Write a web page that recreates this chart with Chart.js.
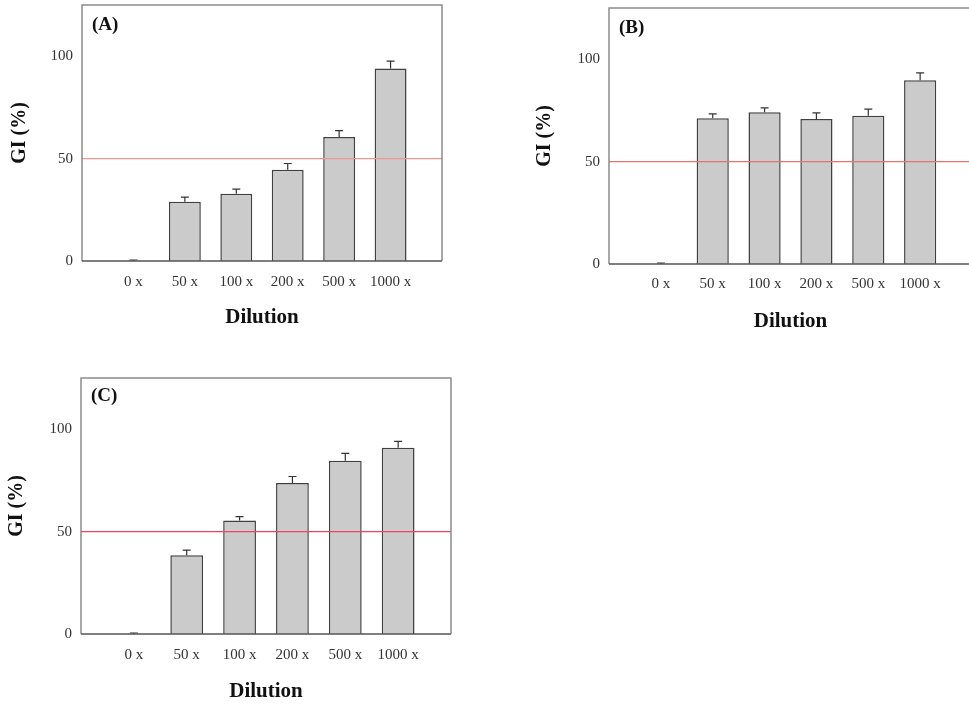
<!DOCTYPE html>
<html>
<head>
<meta charset="utf-8">
<script src="https://cdn.jsdelivr.net/npm/chart.js@4.4.0/dist/chart.umd.min.js"></script>
<style>
html, body { margin: 0; padding: 0; background: #fff; overflow: hidden; }
body { width: 969px; height: 705px; position: relative; }
canvas { position: absolute; }
</style>
</head>
<body>
<canvas id="chartA" width="460" height="340" style="left:0px;top:0px"></canvas>
<canvas id="chartB" width="470" height="345" style="left:520px;top:0px"></canvas>
<canvas id="chartC" width="460" height="335" style="left:0px;top:370px"></canvas>
<script>
var dilutions = ["0 x", "50 x", "100 x", "200 x", "500 x", "1000 x"];
var giA = [0, 28.9, 32.8, 44.5, 60.5, 94.0];
var errA = [0.5, 2.3, 2.3, 3.1, 3.2, 3.6];
var giB = [0, 71.2, 74.1, 70.8, 72.4, 89.7];
var errB = [0.5, 2.1, 2.1, 3.0, 3.2, 3.6];
var giC = [0, 38.4, 55.4, 73.7, 84.6, 90.9];
var errC = [0.5, 2.6, 1.9, 3.2, 3.6, 3.2];
var yTicks = [0, 50, 100];
var threshold = 50;

var serif = "'Liberation Serif', 'Times New Roman', serif";

// frame, error bars and panel tag
var extrasPlugin = {
    id: 'extras',
    afterDatasetsDraw: function(chart, args, opts) {
        var ctx = chart.ctx;
        var area = chart.chartArea;
        var xs = chart.scales.x, ys = chart.scales.y;
        ctx.save();
        ctx.strokeStyle = '#333';
        ctx.lineWidth = 1.2;
        for (var i = 0; i < opts.values.length; i++) {
            var px = xs.getPixelForValue(i);
            var top = ys.getPixelForValue(opts.values[i]);
            var end = ys.getPixelForValue(opts.values[i] + opts.errors[i]);
            ctx.beginPath();
            ctx.moveTo(px, top);
            ctx.lineTo(px, end);
            ctx.moveTo(px - 4, end);
            ctx.lineTo(px + 4, end);
            ctx.stroke();
        }
        // box
        ctx.strokeStyle = '#8c8c8c';
        ctx.lineWidth = 1.5;
        ctx.beginPath();
        ctx.moveTo(area.left, area.bottom);
        ctx.lineTo(area.left, area.top);
        ctx.lineTo(area.right, area.top);
        ctx.lineTo(area.right, area.bottom);
        ctx.stroke();
        ctx.strokeStyle = '#555';
        ctx.beginPath();
        ctx.moveTo(area.left, area.bottom);
        ctx.lineTo(area.right, area.bottom);
        ctx.stroke();
        // (A) / (B) / (C)
        ctx.fillStyle = '#111';
        ctx.font = 'bold 19px ' + serif;
        ctx.textBaseline = 'middle';
        ctx.textAlign = 'left';
        ctx.fillText(opts.tag, area.left + 10, area.top + opts.tagDy);
        ctx.restore();
    }
};

function makeChart(id, values, errors, tag, lay) {
    var bars = dilutions.map(function(d, i) { return {x: i, y: values[i]}; });
    var line = [{x: -1, y: threshold}, {x: dilutions.length, y: threshold}];

    return new Chart(document.getElementById(id), {
        type: 'bar',
        data: {
            datasets: [{
                type: 'line',
                data: line,
                borderColor: lay.lineColor,
                borderWidth: 1.2,
                pointRadius: 0,
                order: 0
            }, {
                data: bars,
                backgroundColor: '#cbcbcb',
                borderColor: '#404040',
                borderWidth: 1.5,
                barPercentage: 0.62,
                categoryPercentage: 1,
                order: 1
            }]
        },
        options: {
            responsive: false,
            animation: false,
            layout: { padding: { top: lay.top, right: lay.right, left: 0, bottom: 0 } },
            plugins: {
                legend: { display: false },
                tooltip: { enabled: false },
                extras: { values: values, errors: errors, tag: tag, tagDy: lay.tagDy }
            },
            scales: {
                x: {
                    type: 'linear',
                    offset: false,
                    min: -1,
                    max: dilutions.length,
                    grid: { display: false, drawTicks: false },
                    border: { display: false },
                    afterBuildTicks: function(scale) {
                        scale.ticks = dilutions.map(function(d, i) { return {value: i}; });
                    },
                    afterFit: function(scale) {
                        scale.height = lay.xHeight;
                        scale.paddingLeft = 0;
                        scale.paddingRight = 0;
                    },
                    ticks: {
                        autoSkip: false,
                        maxRotation: 0,
                        padding: lay.xPad,
                        color: '#333',
                        font: { family: serif, size: 15 },
                        callback: function(v, i) { return dilutions[i]; }
                    },
                    title: {
                        display: true,
                        text: 'Dilution',
                        color: '#111',
                        font: { family: serif, size: 21, weight: 'bold' },
                        padding: { top: 0, bottom: lay.titlePad }
                    }
                },
                y: {
                    min: 0,
                    max: 125,
                    grid: { display: false, drawTicks: false },
                    border: { display: false },
                    afterBuildTicks: function(scale) {
                        scale.ticks = yTicks.map(function(v) { return {value: v}; });
                    },
                    afterFit: function(scale) {
                        scale.width = lay.yWidth;
                        scale.paddingTop = 0;
                        scale.paddingBottom = 0;
                    },
                    ticks: {
                        padding: 9,
                        color: '#333',
                        font: { family: serif, size: 15 }
                    },
                    title: {
                        display: true,
                        text: 'GI (%)',
                        color: '#111',
                        font: { family: serif, size: 20, weight: 'bold' },
                        padding: { top: lay.yTitlePad, bottom: 0 }
                    }
                }
            }
        },
        plugins: [extrasPlugin]
    });
}

makeChart('chartA', giA, errA, '(A)', {
    top: 5, right: 18, yWidth: 82, xHeight: 79, xPad: 12, titlePad: 10,
    yTitlePad: 8, tagDy: 20, lineColor: '#e89c94'
});
makeChart('chartB', giB, errB, '(B)', {
    top: 8, right: 18, yWidth: 89, xHeight: 81, xPad: 11, titlePad: 11,
    yTitlePad: 13, tagDy: 20, lineColor: '#e0766e'
});
makeChart('chartC', giC, errC, '(C)', {
    top: 8, right: 9, yWidth: 81, xHeight: 71, xPad: 12, titlePad: 1,
    yTitlePad: 5, tagDy: 18, lineColor: '#ee4462'
});
</script>
</body>
</html>
